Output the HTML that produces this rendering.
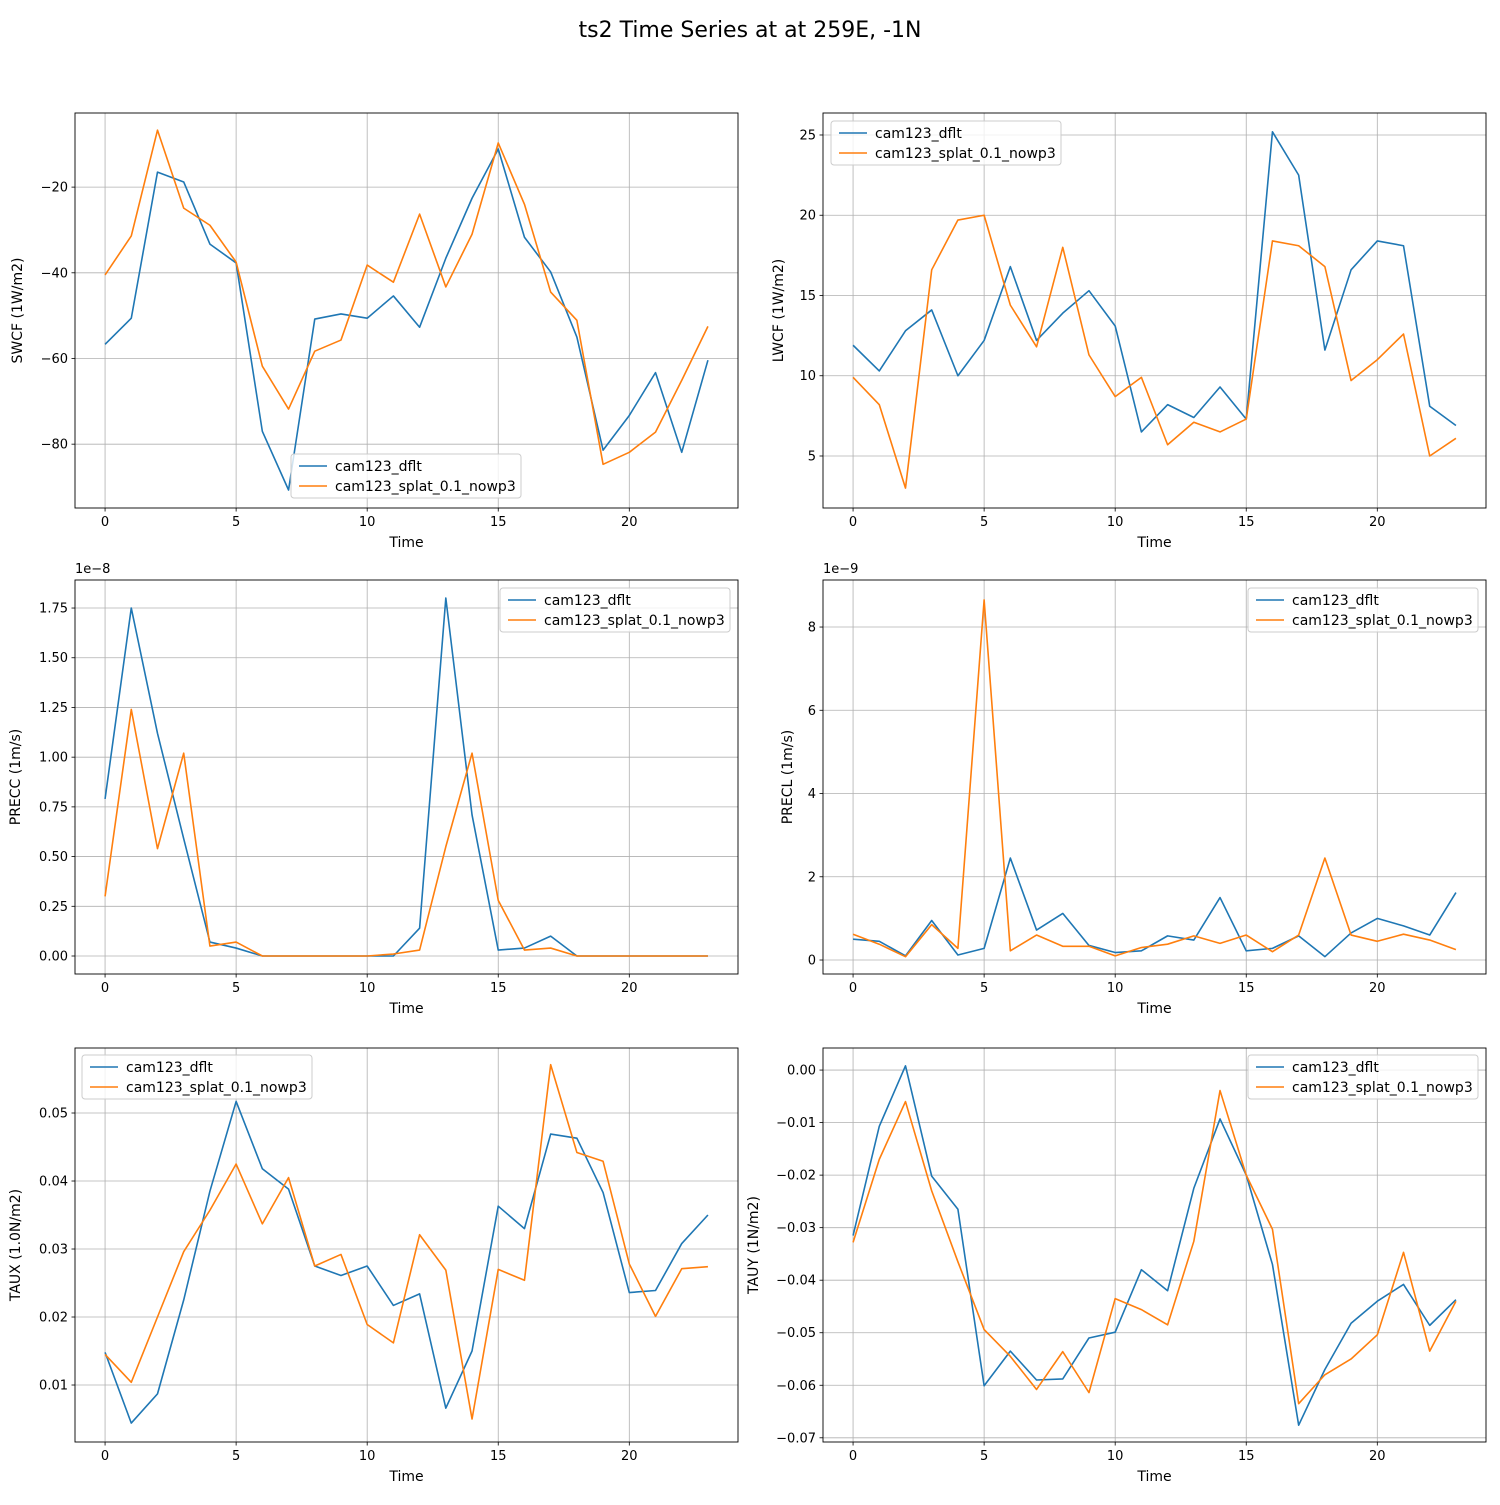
<!DOCTYPE html>
<html><head><meta charset="utf-8"><style>
body{margin:0;background:#fff;}
svg{font-family:"DejaVu Sans","Liberation Sans",sans-serif;}
</style></head><body>
<svg id="fig" width="1500" height="1500" viewBox="0 0 1500 1500">
<rect width="1500" height="1500" fill="#fff"/>
<text x="750" y="37" font-size="22" text-anchor="middle">ts2 Time Series at at 259E, -1N</text>
</svg>
<script>
const hours = [0,1,2,3,4,5,6,7,8,9,10,11,12,13,14,15,16,17,18,19,20,21,22,23];
const xTicks = [0,5,10,15,20];
const seriesNames = ["cam123_dflt","cam123_splat_0.1_nowp3"];
const swcfDflt = [-56.7,-50.6,-16.5,-18.8,-33.3,-37.7,-77.0,-90.7,-50.8,-49.6,-50.6,-45.4,-52.7,-36.6,-22.6,-11.1,-31.7,-39.8,-55.0,-81.4,-73.3,-63.3,-81.9,-60.4];
const swcfSplat = [-40.5,-31.4,-6.7,-24.9,-28.9,-37.5,-61.8,-71.8,-58.3,-55.7,-38.2,-42.2,-26.3,-43.3,-31.0,-9.7,-24.0,-44.5,-51.1,-84.7,-81.9,-77.2,-65.1,-52.5];
const lwcfDflt = [11.9,10.3,12.8,14.1,10.0,12.2,16.8,12.2,13.9,15.3,13.1,6.5,8.2,7.4,9.3,7.3,25.2,22.5,11.6,16.6,18.4,18.1,8.1,6.9];
const lwcfSplat = [9.9,8.2,3.0,16.6,19.7,20.0,14.4,11.8,18.0,11.3,8.7,9.9,5.7,7.1,6.5,7.3,18.4,18.1,16.8,9.7,11.0,12.6,5.0,6.1];
const preccDflt = [0.79,1.75,1.12,0.59,0.07,0.04,0,0,0,0,0,0,0.14,1.80,0.71,0.03,0.04,0.10,0,0,0,0,0,0];
const preccSplat = [0.30,1.24,0.54,1.02,0.05,0.07,0,0,0,0,0,0.01,0.03,0.55,1.02,0.28,0.03,0.04,0,0,0,0,0,0];
const preclDflt = [0.5,0.45,0.1,0.95,0.12,0.28,2.45,0.72,1.12,0.35,0.18,0.22,0.58,0.48,1.5,0.22,0.28,0.58,0.08,0.65,1.0,0.82,0.6,1.62];
const preclSplat = [0.62,0.38,0.08,0.85,0.28,8.65,0.22,0.6,0.33,0.33,0.1,0.3,0.38,0.58,0.4,0.6,0.2,0.6,2.45,0.6,0.45,0.62,0.48,0.25];
const tauxDflt = [0.0148,0.0044,0.0087,0.0225,0.0385,0.0517,0.0418,0.0388,0.0275,0.0261,0.0275,0.0217,0.0234,0.0066,0.0150,0.0363,0.0330,0.0469,0.0463,0.0383,0.0236,0.0239,0.0308,0.0350];
const tauxSplat = [0.0145,0.0104,0.0200,0.0296,0.0357,0.0425,0.0337,0.0405,0.0275,0.0292,0.0189,0.0162,0.0321,0.0269,0.0050,0.0270,0.0254,0.0571,0.0442,0.0429,0.0278,0.0201,0.0271,0.0274];
const tauyDflt = [-0.0315,-0.0107,0.0008,-0.0202,-0.0265,-0.0601,-0.0535,-0.0590,-0.0588,-0.0510,-0.0499,-0.0380,-0.0420,-0.0225,-0.0093,-0.0200,-0.0370,-0.0676,-0.0570,-0.0482,-0.0440,-0.0408,-0.0486,-0.0437];
const tauySplat = [-0.0328,-0.0170,-0.0060,-0.0230,-0.0365,-0.0494,-0.0545,-0.0608,-0.0536,-0.0614,-0.0435,-0.0456,-0.0485,-0.0326,-0.0039,-0.0200,-0.0303,-0.0635,-0.0580,-0.0550,-0.0504,-0.0347,-0.0535,-0.0440];
const swcfTicks = [-80,-60,-40,-20];
const lwcfTicks = [5,10,15,20,25];
const preccTicks = [0,0.25,0.5,0.75,1,1.25,1.5,1.75];
const preclTicks = [0,2,4,6,8];
const tauxTicks = [0.01,0.02,0.03,0.04,0.05];
const tauyTicks = [0,-0.01,-0.02,-0.03,-0.04,-0.05,-0.06,-0.07];

const NS="http://www.w3.org/2000/svg";
const svg=document.getElementById('fig');
function mk(tag,attrs,parent){const e=document.createElementNS(NS,tag);for(const k in attrs)e.setAttribute(k,attrs[k]);(parent||svg).appendChild(e);return e;}
function fmt(v,d){return v.toFixed(d).replace('-','\u2212');}

const panels=[
 {key:'swcf',x0:75,x1:738,y0:113,y1:508,ymin:-94.9,ymax:-2.7,ticks:swcfTicks,dec:0,label:'SWCF (1W/m2)',lx:22,a:swcfDflt,b:swcfSplat,leg:[291,454]},
 {key:'lwcf',x0:823,x1:1486,y0:113,y1:508,ymin:1.76,ymax:26.37,ticks:lwcfTicks,dec:0,label:'LWCF (1W/m2)',lx:783,a:lwcfDflt,b:lwcfSplat,leg:[831,121]},
 {key:'precc',x0:75,x1:738,y0:580,y1:974,ymin:-0.0905,ymax:1.891,ticks:preccTicks,dec:2,label:'PRECC (1m/s)',lx:20,a:preccDflt,b:preccSplat,leg:[500,588],off:'1e\u22128'},
 {key:'precl',x0:823,x1:1486,y0:580,y1:974,ymin:-0.336,ymax:9.13,ticks:preclTicks,dec:0,label:'PRECL (1m/s)',lx:792,a:preclDflt,b:preclSplat,leg:[1248,588],off:'1e\u22129'},
 {key:'taux',x0:75,x1:738,y0:1048,y1:1442,ymin:0.00162,ymax:0.05956,ticks:tauxTicks,dec:2,label:'TAUX (1.0N/m2)',lx:20,a:tauxDflt,b:tauxSplat,leg:[82,1055]},
 {key:'tauy',x0:823,x1:1486,y0:1048,y1:1442,ymin:-0.0708,ymax:0.0042,ticks:tauyTicks,dec:2,label:'TAUY (1N/m2)',lx:758,a:tauyDflt,b:tauySplat,leg:[1248,1055]}
];
const xmin=-1.147,xmax=24.147;
const colors=['#1f77b4','#ff7f0e'];
panels.forEach(p=>{
 const g=mk('g',{});
 
 
 const X=v=>p.x0+(v-xmin)/(xmax-xmin)*(p.x1-p.x0);
 const Y=v=>p.y1-(v-p.ymin)/(p.ymax-p.ymin)*(p.y1-p.y0);
 xTicks.forEach(t=>{const x=X(t);
  mk('line',{x1:x,x2:x,y1:p.y0,y2:p.y1,stroke:'#b0b0b0','stroke-width':0.8},g);
  mk('line',{x1:x,x2:x,y1:p.y1,y2:p.y1+3.5,stroke:'#000','stroke-width':0.8},g);
  const t2=mk('text',{x:x,y:p.y1+18,'font-size':13,'text-anchor':'middle'},g);t2.textContent=t;
  
  });
 p.ticks.forEach(t=>{const y=Y(t);
  mk('line',{x1:p.x0,x2:p.x1,y1:y,y2:y,stroke:'#b0b0b0','stroke-width':0.8},g);
  mk('line',{x1:p.x0-3.5,x2:p.x0,y1:y,y2:y,stroke:'#000','stroke-width':0.8},g);
  const t2=mk('text',{x:p.x0-7,y:y+4.5,'font-size':13,'text-anchor':'end'},g);t2.textContent=fmt(t,p.dec);
  
  });
 [p.a,p.b].forEach((arr,i)=>{
  const pl=mk('polyline',{points:arr.map((v,j)=>X(hours[j])+','+Y(v)).join(' '),fill:'none',stroke:colors[i],'stroke-width':1.6,'stroke-linejoin':'round'},g);
  
  });
 const fr=mk('rect',{x:p.x0,y:p.y0,width:p.x1-p.x0,height:p.y1-p.y0,fill:'none',stroke:'#000','stroke-width':0.9},g);
 
 
 const xl=mk('text',{x:(p.x0+p.x1)/2,y:p.y1+39,'font-size':14,'text-anchor':'middle'},g);xl.textContent='Time';
 
 
 const cy=(p.y0+p.y1)/2;
 const yl=mk('text',{x:p.lx,y:cy,'font-size':14,'text-anchor':'middle',transform:`rotate(-90 ${p.lx} ${cy})`},g);yl.textContent=p.label;
 
 
 if(p.off){const o=mk('text',{x:p.x0,y:p.y0-7,'font-size':13},g);o.textContent=p.off;
  
  }
 const lg=mk('g',{},g);
 
 
 const [lx,ly]=p.leg;
 mk('rect',{x:lx,y:ly,width:230,height:44,rx:3,fill:'#fff','fill-opacity':0.8,stroke:'#ccc','stroke-width':1},lg);
 seriesNames.forEach((n,i)=>{const yy=ly+12+i*20;
  mk('line',{x1:lx+8,x2:lx+36,y1:yy,y2:yy,stroke:colors[i],'stroke-width':1.6},lg);
  const t=mk('text',{x:lx+44,y:yy+5,'font-size':14},lg);t.textContent=n;
  
  });
});
</script>
</body></html>
